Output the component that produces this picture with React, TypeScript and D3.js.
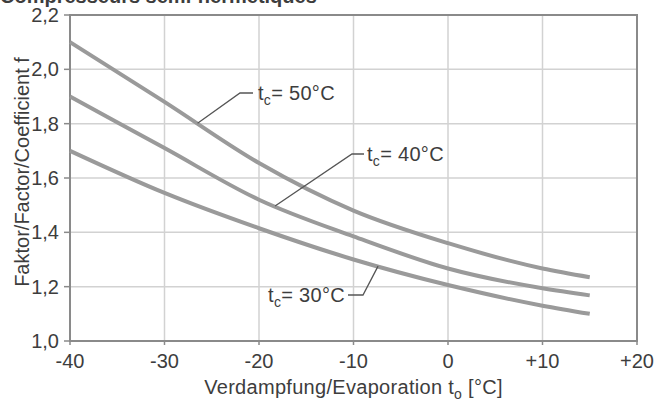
import React from "react";
import * as d3 from "d3";

const evaporation = [-40, -30, -20, -10, 0, 10, 15];
const tc50 = [2.1, 1.88, 1.655, 1.48, 1.36, 1.267, 1.235];
const tc40 = [1.9, 1.71, 1.52, 1.385, 1.267, 1.194, 1.168];
const tc30 = [1.7, 1.545, 1.415, 1.3, 1.206, 1.13, 1.1];
const xTicks = [-40, -30, -20, -10, 0, 10, 20];
const xTickLabels = ["-40", "-30", "-20", "-10", "0", "+10", "+20"];
const yTicks = [1.0, 1.2, 1.4, 1.6, 1.8, 2.0, 2.2];
const yTickLabels = ["1,0", "1,2", "1,4", "1,6", "1,8", "2,0", "2,2"];
const seriesLabels = ["50°C", "40°C", "30°C"];

const W = 659;
const H = 405;
const M = { left: 70, right: 22, top: 15, bottom: 64 };
const FONT = "'Liberation Sans', Arial, Helvetica, sans-serif";
const TXT = "#3d3d3d";
const FS = 20;

function TcText(props: { x: number; y: number; anchor?: string; txt: string }) {
  return (
    <text
      x={props.x}
      y={props.y}
      textAnchor={props.anchor || "start"}
      fontSize={FS}
      fill={TXT}
      fontFamily={FONT}
      letterSpacing={0.3}
    >
      t
      <tspan fontSize={14} dy={5}>
        c
      </tspan>
      <tspan dy={-5}>{"= " + props.txt}</tspan>
    </text>
  );
}

export default function App() {
  const x = d3.scaleLinear().domain([-40, 20]).range([M.left, W - M.right]);
  const y = d3.scaleLinear().domain([1.0, 2.2]).range([H - M.bottom, M.top]);
  const line = d3
    .line<[number, number]>()
    .x((d) => x(d[0]))
    .y((d) => y(d[1]))
    .curve(d3.curveMonotoneX);
  const series = [tc50, tc40, tc30];

  const interp = (arr: number[], xv: number) =>
    d3.scaleLinear().domain(evaporation).range(arr)(xv);

  const p50 = [x(-26.5), y(interp(tc50, -26.5))];
  const p40 = [x(-18.3), y(interp(tc40, -18.3))];
  const p30 = [x(-7.4), y(interp(tc30, -7.4))];

  return (
    <svg
      width={W}
      height={H}
      style={{ position: "absolute", left: 0, top: 0, background: "#fff" }}
    >
      <text
        x={0}
        y={3}
        fontSize={20}
        fontWeight="bold"
        fill={TXT}
        fontFamily={FONT}
      >
        Compresseurs semi-hermétiques
      </text>
      {/* grid */}
      {xTicks.slice(1, -1).map((t) => (
        <line
          key={"gx" + t}
          x1={x(t)}
          x2={x(t)}
          y1={y(2.2)}
          y2={y(1.0)}
          stroke="#d2d2d2"
          strokeWidth={1.5}
        />
      ))}
      {yTicks.slice(1, -1).map((t) => (
        <line
          key={"gy" + t}
          x1={x(-40)}
          x2={x(20)}
          y1={y(t)}
          y2={y(t)}
          stroke="#d2d2d2"
          strokeWidth={1.5}
        />
      ))}
      {/* frame */}
      <rect
        x={x(-40)}
        y={y(2.2)}
        width={x(20) - x(-40)}
        height={y(1.0) - y(2.2)}
        fill="none"
        stroke="#8a8a8a"
        strokeWidth={2}
      />
      {/* ticks */}
      {yTicks.map((t, i) => (
        <g key={"yt" + t}>
          <line
            x1={x(-40) - 6}
            x2={x(-40)}
            y1={y(t)}
            y2={y(t)}
            stroke="#8a8a8a"
            strokeWidth={1.5}
          />
          <text
            x={x(-40) - 11}
            y={y(t) + 7}
            textAnchor="end"
            fontSize={FS}
            fill={TXT}
            fontFamily={FONT}
          >
            {yTickLabels[i]}
          </text>
        </g>
      ))}
      {xTicks.map((t, i) => (
        <g key={"xt" + t}>
          <line
            x1={x(t)}
            x2={x(t)}
            y1={y(1.0)}
            y2={y(1.0) + 4}
            stroke="#8a8a8a"
            strokeWidth={1.5}
          />
          <text
            x={x(t)}
            y={y(1.0) + 27}
            textAnchor="middle"
            fontSize={FS}
            fill={TXT}
            fontFamily={FONT}
          >
            {xTickLabels[i]}
          </text>
        </g>
      ))}
      {/* curves */}
      {series.map((s, i) => (
        <path
          key={"s" + i}
          d={line(evaporation.map((e, j) => [e, s[j]] as [number, number])) || ""}
          fill="none"
          stroke="#9a9a9a"
          strokeWidth={4}
        />
      ))}
      {/* labels */}
      <path
        d={`M${p50[0]},${p50[1]}L240,93L253,93`}
        fill="none"
        stroke="#555"
        strokeWidth={1.3}
      />
      <TcText x={258} y={100} txt={seriesLabels[0]} />
      <path
        d={`M${p40[0]},${p40[1]}L352,154L364,154`}
        fill="none"
        stroke="#555"
        strokeWidth={1.3}
      />
      <TcText x={367} y={161} txt={seriesLabels[1]} />
      <path
        d={`M${p30[0]},${p30[1]}L363,295L348,295`}
        fill="none"
        stroke="#555"
        strokeWidth={1.3}
      />
      <TcText x={345} y={302} anchor="end" txt={seriesLabels[2]} />
      {/* axis titles */}
      <text
        x={(x(-40) + x(20)) / 2}
        y={394}
        textAnchor="middle"
        fontSize={FS}
        fill={TXT}
        fontFamily={FONT}
        letterSpacing={0.3}
      >
        Verdampfung/Evaporation t
        <tspan fontSize={14} dy={5}>
          o
        </tspan>
        <tspan dy={-5}> [°C]</tspan>
      </text>
      <text
        transform={`translate(29,${(y(1.0) + y(2.2)) / 2 - 6}) rotate(-90)`}
        textAnchor="middle"
        fontSize={FS}
        fill={TXT}
        fontFamily={FONT}
      >
        Faktor/Factor/Coefficient f
      </text>
    </svg>
  );
}
